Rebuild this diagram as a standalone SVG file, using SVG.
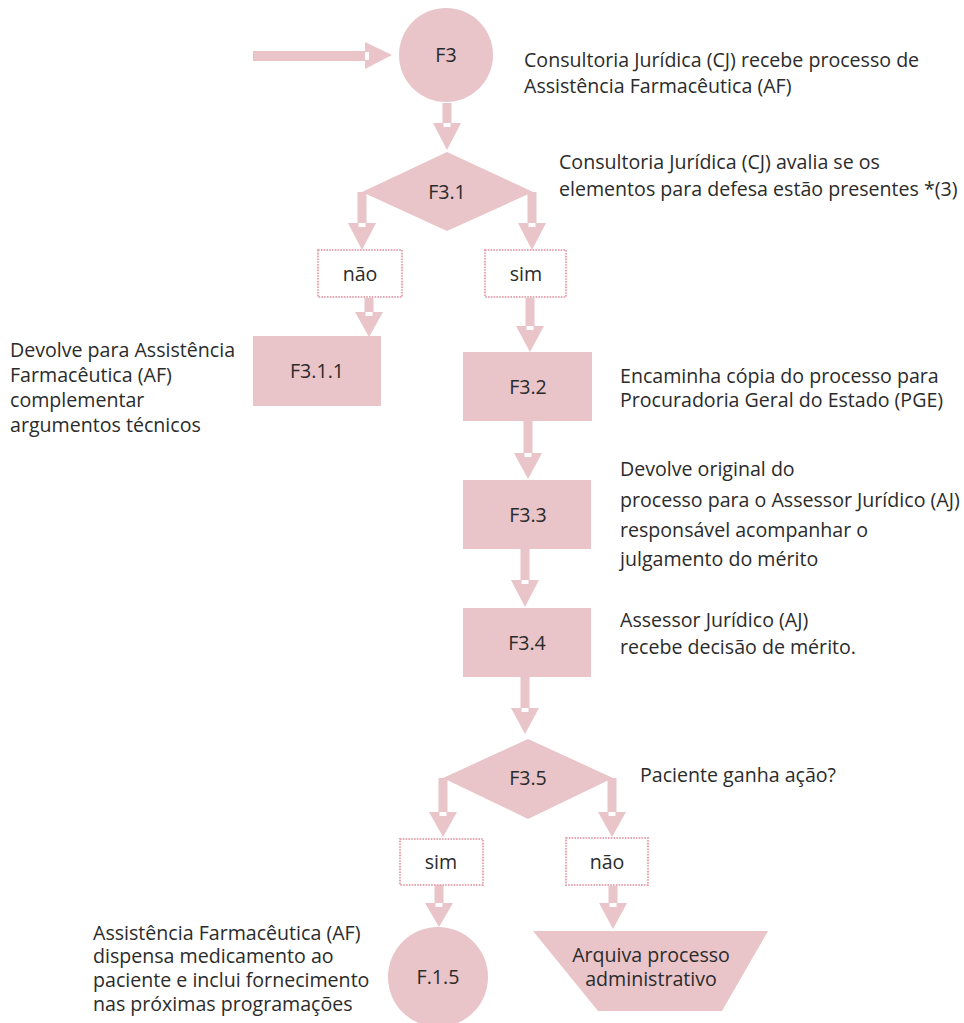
<svg xmlns="http://www.w3.org/2000/svg" width="964" height="1023" viewBox="0 0 964 1023">
<style>
.n{fill:#e9c4c9}
.s{fill:#e9c4c9}
.w{fill:#ffffff}
.d{fill:#ffffff;stroke:#e6a9b3;stroke-width:2.2;stroke-dasharray:1.6 1.2}
text{font-family:"Open Sans","Noto Sans","Liberation Sans",sans-serif;font-size:19.6px;fill:#2b2b2b}
.c{text-anchor:middle}
</style>
<rect width="964" height="1023" fill="#ffffff"/>
<g id="connectors">
  <g id="a0"><rect class="s" x="253" y="51" width="114" height="10"/><polygon class="s" points="365,42 392,55 365,69"/><rect class="w" x="365" y="52" width="4" height="8"/></g>
  <g id="a1"><rect class="s" x="442.5" y="103" width="9" height="21"/><polygon class="s" points="433,123 461,123 447,150"/><rect class="w" x="443.5" y="123" width="7" height="4"/></g>
  <g id="a2"><rect class="s" x="357.5" y="192" width="9" height="32"/><polygon class="s" points="348,223 376,223 362,250"/><rect class="w" x="358.5" y="223" width="7" height="4"/></g>
  <g id="a3"><rect class="s" x="527.5" y="192" width="9" height="32"/><polygon class="s" points="518,223 546,223 532,250"/><rect class="w" x="528.5" y="223" width="7" height="4"/></g>
  <g id="a4"><rect class="s" x="364.5" y="298" width="9" height="15"/><polygon class="s" points="355,312 383,312 369,337"/><rect class="w" x="365.5" y="312" width="7" height="4"/></g>
  <g id="a5"><rect class="s" x="525.5" y="298" width="9" height="29"/><polygon class="s" points="516,326 544,326 530,352"/><rect class="w" x="526.5" y="326" width="7" height="4"/></g>
  <g id="a6"><rect class="s" x="523.5" y="421" width="9" height="33"/><polygon class="s" points="514,453 542,453 528,479"/><rect class="w" x="524.5" y="453" width="7" height="4"/></g>
  <g id="a7"><rect class="s" x="520.5" y="548" width="9" height="33"/><polygon class="s" points="511,580 539,580 525,607"/><rect class="w" x="521.5" y="580" width="7" height="4"/></g>
  <g id="a8"><rect class="s" x="520.5" y="676" width="9" height="33"/><polygon class="s" points="511,708 539,708 525,734"/><rect class="w" x="521.5" y="708" width="7" height="4"/></g>
  <g id="a9"><rect class="s" x="438.5" y="778" width="9" height="35"/><polygon class="s" points="429,812 457,812 443,837"/><rect class="w" x="439.5" y="812" width="7" height="4"/></g>
  <g id="a10"><rect class="s" x="607.5" y="778" width="9" height="35"/><polygon class="s" points="598,812 626,812 612,837"/><rect class="w" x="608.5" y="812" width="7" height="4"/></g>
  <g id="a11"><rect class="s" x="434.5" y="885" width="9" height="19"/><polygon class="s" points="425,903 453,903 439,927"/><rect class="w" x="435.5" y="903" width="7" height="4"/></g>
  <g id="a12"><rect class="s" x="608.5" y="886" width="9" height="18"/><polygon class="s" points="599,903 627,903 613,929"/><rect class="w" x="609.5" y="903" width="7" height="4"/></g>
</g>
<g id="F3"><circle class="n" cx="446" cy="55" r="47"/><text class="c" x="446" y="62">F3</text></g>
<g id="F3.1"><polygon class="n" points="447,152 533,192 447,231 362,192"/><text class="c" x="447" y="199">F3.1</text></g>
<g id="nao1"><rect class="d" x="318" y="250" width="84" height="47"/><text class="c" x="360" y="281">não</text></g>
<g id="sim1"><rect class="d" x="485" y="250" width="81" height="47"/><text class="c" x="526" y="281">sim</text></g>
<g id="F3.1.1"><rect class="n" x="253" y="336" width="128" height="70"/><text class="c" x="317" y="378">F3.1.1</text></g>
<g id="F3.2"><rect class="n" x="463" y="352" width="129" height="69"/><text class="c" x="528" y="394">F3.2</text></g>
<g id="F3.3"><rect class="n" x="463" y="480" width="128" height="69"/><text class="c" x="528" y="522">F3.3</text></g>
<g id="F3.4"><rect class="n" x="463" y="608" width="128" height="69"/><text class="c" x="527" y="650">F3.4</text></g>
<g id="F3.5"><polygon class="n" points="528,739 613,778 528,819 443,778"/><text class="c" x="528" y="785">F3.5</text></g>
<g id="sim2"><rect class="d" x="400" y="839" width="83" height="46"/><text class="c" x="441" y="869">sim</text></g>
<g id="nao2"><rect class="d" x="566" y="838" width="82" height="47"/><text class="c" x="607" y="869">não</text></g>
<g id="F.1.5"><circle class="n" cx="438" cy="977" r="50"/><text class="c" x="438" y="984">F.1.5</text></g>
<g id="arquiva"><polygon class="n" points="533,931 768,931 722,1011 598,1011"/><text class="c" x="651" y="962">Arquiva processo</text><text class="c" x="651" y="986">administrativo</text></g>
<g id="labels">
  <text x="524" y="67">Consultoria Jurídica (CJ) recebe processo de</text>
  <text x="524" y="93">Assistência Farmacêutica (AF)</text>
  <text x="559" y="169">Consultoria Jurídica (CJ) avalia se os</text>
  <text x="559" y="196">elementos para defesa estão presentes *(3)</text>
  <text x="10" y="357">Devolve para Assistência</text>
  <text x="10" y="382">Farmacêutica (AF)</text>
  <text x="10" y="407">complementar</text>
  <text x="10" y="432">argumentos técnicos</text>
  <text x="620" y="383">Encaminha cópia do processo para</text>
  <text x="620" y="407">Procuradoria Geral do Estado (PGE)</text>
  <text x="620" y="476">Devolve original do</text>
  <text x="620" y="507">processo para o Assessor Jurídico (AJ)</text>
  <text x="620" y="537">responsável acompanhar o</text>
  <text x="620" y="566">julgamento do mérito</text>
  <text x="620" y="627">Assessor Jurídico (AJ)</text>
  <text x="620" y="654">recebe decisão de mérito.</text>
  <text x="640" y="782">Paciente ganha ação?</text>
  <text x="93" y="940">Assistência Farmacêutica (AF)</text>
  <text x="93" y="963">dispensa medicamento ao</text>
  <text x="93" y="987">paciente e inclui fornecimento</text>
  <text x="93" y="1011">nas próximas programações</text>
</g>
</svg>
